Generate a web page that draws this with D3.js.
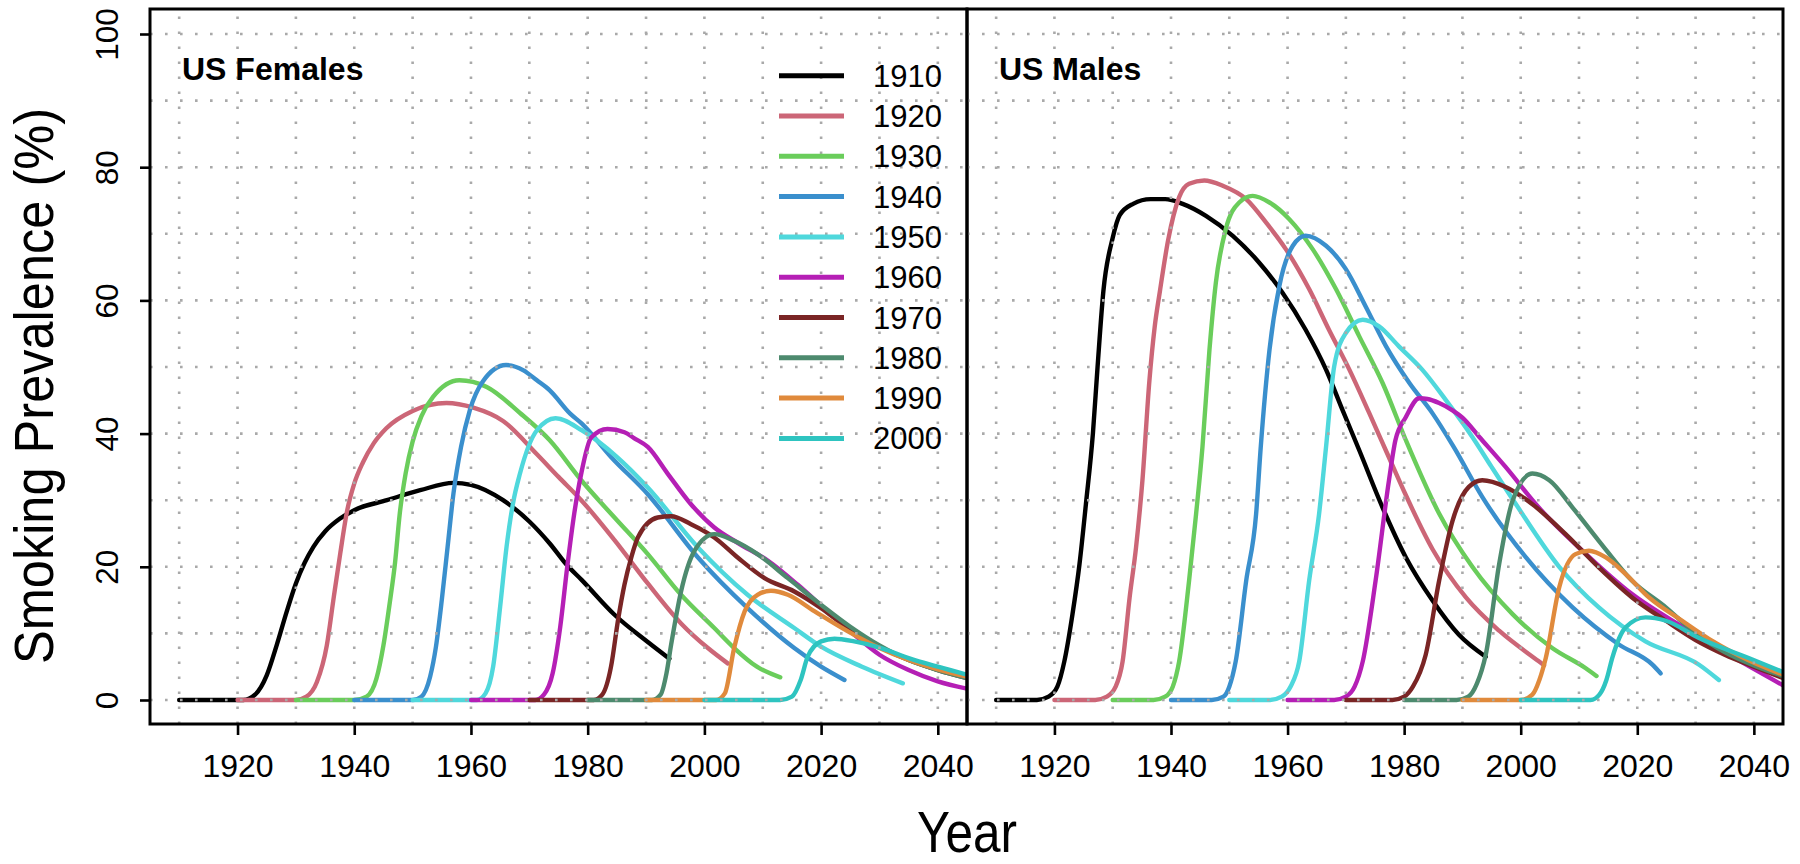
<!DOCTYPE html>
<html>
<head>
<meta charset="utf-8">
<script src="https://cdn.jsdelivr.net/npm/d3@7"></script>
<style>
  html, body { margin: 0; padding: 0; background: #ffffff; }
  svg { display: block; font-family: "Liberation Sans", Arial, Helvetica, sans-serif; }
</style>
</head>
<body>
<svg id="chart" width="1800" height="864"></svg>
<script>
// ---------------- DATA ----------------
const cohorts = ["1910", "1920", "1930", "1940", "1950", "1960", "1970", "1980", "1990", "2000"];
const cohortColors = ["#000000", "#cc6677", "#6acd5b", "#3a8fcd", "#4fd8dc", "#b51fb5", "#7a2525", "#4d8a6e", "#e08a3c", "#2ec4c0"];
const panelTitles = ["US Females", "US Males"];
const xTicks = [1920, 1940, 1960, 1980, 2000, 2020, 2040];
const yTicks = [0, 20, 40, 60, 80, 100];
const xGrid = [1910, 1920, 1930, 1940, 1950, 1960, 1970, 1980, 1990, 2000, 2010, 2020, 2030, 2040];
const yGrid = [0, 10, 20, 30, 40, 50, 60, 70, 80, 90, 100];

// US Females: [year, prevalence %]
const f1910 = [[1910,0],[1921,0],[1923,0.8],[1925,3.7],[1926.7,8.2],[1928.4,13.2],[1930,17.5],[1931.5,20.6],[1933,23],[1935,25.3],[1937.5,27.2],[1940,28.5],[1945.6,30],[1951.3,31.5],[1957,32.6],[1960,32.3],[1965.5,30],[1970,26.8],[1973.5,23.5],[1976.4,20.3],[1979,18],[1984.6,12.8],[1990.3,8.7],[1994,6.2]];
const f1920 = [[1920,0],[1930,0],[1931.8,0.5],[1933.6,2.7],[1935.3,8.2],[1936.5,15.5],[1937.6,22],[1938.8,28.5],[1940,32.5],[1941.5,35.7],[1943.3,38.5],[1945.5,40.8],[1950,43.4],[1955.8,44.6],[1960.4,43.9],[1965.5,41.9],[1971.3,36.9],[1975,33.5],[1978.9,30],[1984.6,24],[1990.3,17.5],[1996,11.5],[2000.6,7.8],[2004,5.5]];
const f1930 = [[1930,0],[1940,0],[1942.1,0.5],[1943.8,3.2],[1945,8.2],[1946.1,14.7],[1947,20.7],[1947.8,28],[1948.8,34],[1950,38.8],[1951.5,42.6],[1953.5,45.5],[1958,48],[1962.7,47],[1968.4,43.1],[1973.5,39],[1978.9,33],[1984.6,27.4],[1990.3,21.9],[1996,15.8],[2001.7,10.8],[2005.1,7.8],[2009,5],[2013,3.4]];
const f1940 = [[1940,0],[1950,0],[1951.5,0.5],[1953,3.5],[1954,8],[1955,15],[1956,23],[1957,31],[1958.3,38],[1959.8,43.5],[1962,47.8],[1966,50.3],[1969,49.5],[1971.3,48],[1973.5,46.5],[1977,43],[1979,41.5],[1984,36.5],[1990.3,30.9],[1998.9,21.4],[2007.4,13.8],[2015.4,7.8],[2020,5],[2024,3]];
const f1950 = [[1950,0],[1961,0],[1962.5,1],[1963.8,5],[1965,14],[1966.1,23],[1967.2,29.5],[1968.4,34],[1971.3,40.5],[1974.5,42.3],[1979,40.5],[1985,36.5],[1990.3,31.9],[1998.9,22.9],[2007.4,15.8],[2015.4,10.8],[2020,8],[2027,5],[2034,2.5]];
const f1960 = [[1960,0],[1971,0],[1972.5,0.8],[1974,4],[1975.3,11],[1976.5,20],[1977.7,28],[1978.9,34],[1980.6,39.4],[1983.4,40.7],[1986.3,40.2],[1988,39.3],[1990.3,38],[1993.7,34],[1997.7,29.4],[2001.7,25.9],[2005.7,23.6],[2010.9,20.9],[2016,17.3],[2021.1,13.3],[2025.7,9.8],[2030,6.8],[2035,4.5],[2040,2.8],[2045,1.7]];
const f1970 = [[1970,0],[1981,0],[1982.5,0.8],[1984,5],[1985.2,12],[1986.3,17.3],[1987.5,21.5],[1988.6,24.4],[1992,27.4],[1994.3,27.6],[1997.7,26.4],[2001.7,24.4],[2005.7,21.4],[2010.3,18.3],[2015.4,16.3],[2020,13.8],[2025,10.5],[2030,8],[2035,6],[2040,4.5],[2045,3.3]];
const f1980 = [[1980,0],[1991,0],[1992.5,0.8],[1993.5,4],[1994.3,8.3],[1996,16.3],[1998.3,22.4],[2001.7,24.9],[2005.1,23.9],[2009.1,21.9],[2014.3,18.3],[2020,14.3],[2025,11],[2030,8.2],[2035,6],[2040,4.5],[2045,3.3]];
const f1990 = [[1990,0],[2002,0],[2003.5,1],[2005.1,7.8],[2006.9,13.3],[2009.1,15.8],[2011.4,16.4],[2014.3,15.8],[2018.9,13.3],[2024.6,10.3],[2030,7.8],[2035,6],[2040,4.6],[2045,3.5]];
const f2000 = [[2000,0],[2013,0],[2015,0.5],[2016.5,3],[2017.7,6.5],[2020,8.8],[2022.3,9.2],[2025.7,8.8],[2030.3,7.8],[2035,6.3],[2040,5],[2045,3.8]];

// US Males: [year, prevalence %]
const m1910 = [[1910,0],[1917,0],[1919,0.5],[1920.5,2],[1921.7,5.8],[1923.1,12.9],[1924.3,20.4],[1925.4,29.4],[1926.6,40],[1927.4,50],[1928.4,61.4],[1930,69.4],[1931.2,72.8],[1933.5,74.5],[1936.5,75.2],[1939,75.2],[1942,74.5],[1946,72.7],[1950.6,69.7],[1955.1,65.7],[1959.1,61.2],[1963.1,55.6],[1966.6,49.6],[1969.4,43.6],[1972.3,37.5],[1976.3,28.9],[1980.3,21.4],[1984.9,14.9],[1989.4,9.8],[1994,6.5]];
const m1920 = [[1920,0],[1927,0],[1929,0.5],[1930.5,2],[1931.7,5.8],[1932.9,15.4],[1934,22.9],[1935.1,33],[1936.3,48],[1937.2,56],[1938.1,61.4],[1939.5,69],[1941.4,75.5],[1943.1,77.5],[1945.7,78],[1948.9,77.2],[1952.9,75.2],[1956.3,71.7],[1959.7,67.7],[1963.7,61.7],[1967.1,55.6],[1970.6,49.6],[1974,43.1],[1977,37.2],[1980,31.3],[1984.9,22.6],[1990.6,15.4],[1996.3,10.4],[2003.1,5.8],[2004,5.2]];
const m1930 = [[1930,0],[1937,0],[1939,0.5],[1940.3,2],[1941.4,5.8],[1943.1,17.9],[1944.3,27.9],[1945.4,38],[1946.6,52.6],[1947.7,62.7],[1949.4,70.7],[1951.7,74.7],[1954,75.7],[1956.9,74.7],[1960.3,72.2],[1964.3,67.7],[1968.3,61.7],[1972.3,54.6],[1976.3,47.6],[1980.3,39],[1986,28],[1991.7,20],[1998.6,12.9],[2005.4,7.8],[2011.1,4.8],[2013,3.6]];
const m1940 = [[1940,0],[1947,0],[1949,0.5],[1950,2],[1951.1,5.8],[1952.9,17.9],[1954.6,27.9],[1955.4,38],[1956.9,52.6],[1958.6,62.2],[1960.9,68.2],[1963.1,69.7],[1966.6,68.2],[1970,64.7],[1973.4,59.1],[1976.9,53.1],[1980.9,47.6],[1984.9,43],[1988.5,38],[1993.4,30.5],[2000.9,21.4],[2008.9,13.9],[2016.9,8.3],[2022.6,5.3],[2024,4]];
const m1950 = [[1950,0],[1957,0],[1959,0.5],[1960.5,2],[1962,5.8],[1963.7,17.9],[1965.4,27.9],[1966.6,38],[1968,50.1],[1970,55.1],[1972.9,57.1],[1975.7,56.1],[1979.1,53.1],[1983.1,49.6],[1987.1,45.1],[1991.7,39.5],[1995,35],[1999.1,29.5],[2006.6,20],[2013.4,13.9],[2021.4,8.8],[2030.6,5.3],[2034,3]];
const m1960 = [[1960,0],[1968,0],[1970,0.5],[1971.5,2],[1972.9,5.8],[1975.1,17.9],[1977.4,33],[1978.5,39],[1980.3,42.5],[1982.6,45.3],[1984,45.2],[1986,44.6],[1988.3,43.5],[1990,42.4],[1992.9,39.5],[1997.4,35],[2003.1,28.9],[2010.6,22.4],[2019.1,15.9],[2027.7,11],[2036.3,6.5],[2045,2.2]];
const m1970 = [[1970,0],[1978,0],[1980,0.5],[1981.5,2],[1983.7,6.8],[1986,17.9],[1988.3,26.9],[1991.1,32],[1993.4,33],[1997.4,32],[2002,29.4],[2007.7,24.9],[2013.4,19.9],[2019.1,15.4],[2024.9,11.9],[2030,9],[2035,6.8],[2040,5],[2045,3.3]];
const m1980 = [[1980,0],[1989,0],[1991,0.5],[1992.5,2.5],[1994,6.8],[1996.3,20.4],[1998.6,29.9],[2002,34],[2004.9,33],[2008.9,28.9],[2013.4,23.9],[2019.1,17.9],[2024.9,13.9],[2030,10],[2035,7.2],[2040,5.2],[2045,3.6]];
const m1990 = [[1990,0],[2000,0],[2002,0.8],[2003.2,3],[2004.3,6.3],[2006.6,16.9],[2009.4,21.9],[2011.7,22.4],[2014.6,21.4],[2018,18.9],[2022,15.4],[2027.7,11.9],[2033,8.8],[2039,6],[2045,3.8]];
const m2000 = [[2000,0],[2012,0],[2013.5,0.8],[2014.7,3],[2015.7,6.3],[2018,10.9],[2021.4,12.4],[2024.9,11.9],[2030.6,9.3],[2039.1,6.3],[2045,4.2]];

const femaleSeries = [f1910, f1920, f1930, f1940, f1950, f1960, f1970, f1980, f1990, f2000];
const maleSeries = [m1910, m1920, m1930, m1940, m1950, m1960, m1970, m1980, m1990, m2000];

// ---------------- LAYOUT ----------------
const svg = d3.select("#chart");
const plotTop = 9, plotBottom = 724;
const panels = [
  { x0: 150, x1: 967, series: femaleSeries, title: panelTitles[0] },
  { x0: 967, x1: 1783, series: maleSeries, title: panelTitles[1] }
];
const yScale = d3.scaleLinear().domain([0, 100]).range([700, 34]);
const font = '"Liberation Sans", Arial, Helvetica, sans-serif';
const defs = svg.append("defs");
const gridColor = "#a9a9a9";

panels.forEach((p, pi) => {
  const x = d3.scaleLinear().domain([1905, 2045]).range([p.x0, p.x1]);
  const g = svg.append("g");
  const clipId = "clip" + pi;
  defs.append("clipPath").attr("id", clipId)
    .append("rect").attr("x", p.x0).attr("y", plotTop).attr("width", p.x1 - p.x0).attr("height", plotBottom - plotTop);

  // data lines
  const line = d3.line().x(d => x(d[0])).y(d => yScale(d[1])).curve(d3.curveMonotoneX);
  const lg = g.append("g").attr("clip-path", `url(#${clipId})`);
  p.series.forEach((s, i) => {
    lg.append("path").attr("d", line(s)).attr("fill", "none")
      .attr("stroke", cohortColors[i]).attr("stroke-width", 4.4)
      .attr("stroke-linejoin", "round").attr("stroke-linecap", "round");
  });

  // dotted grid on top
  const gg = g.append("g").attr("clip-path", `url(#${clipId})`);
  xGrid.forEach(v => {
    gg.append("line").attr("x1", x(v)).attr("x2", x(v)).attr("y1", plotBottom).attr("y2", plotTop)
      .attr("stroke", gridColor).attr("stroke-width", 2.6).attr("stroke-dasharray", "2.6,12.4");
  });
  yGrid.forEach(v => {
    gg.append("line").attr("x1", p.x0).attr("x2", p.x1).attr("y1", yScale(v)).attr("y2", yScale(v))
      .attr("stroke", gridColor).attr("stroke-width", 2.6).attr("stroke-dasharray", "2.6,12.4");
  });

  // box
  g.append("rect").attr("x", p.x0).attr("y", plotTop).attr("width", p.x1 - p.x0).attr("height", plotBottom - plotTop)
    .attr("fill", "none").attr("stroke", "#000").attr("stroke-width", 3);

  // x axis
  const xa = d3.axisBottom(x).tickValues(xTicks).tickSize(11).tickFormat(d3.format("d"));
  const xg = g.append("g").attr("transform", `translate(0,${plotBottom})`).call(xa);
  xg.select(".domain").remove();
  xg.selectAll(".tick line").attr("stroke", "#000").attr("stroke-width", 2.6);
  xg.selectAll(".tick text").attr("font-family", font).attr("font-size", 32).attr("fill", "#000")
    .attr("y", 53).attr("dy", 0);

  // panel title
  g.append("text").attr("x", p.x0 + 32).attr("y", 80).text(p.title)
    .attr("font-family", font).attr("font-weight", "bold").attr("font-size", 32).attr("fill", "#000");
});

// y axis (left panel only)
const ya = d3.axisLeft(yScale).tickValues(yTicks).tickSize(10).tickFormat(d3.format("d"));
const yg = svg.append("g").attr("transform", "translate(150,0)").call(ya);
yg.select(".domain").remove();
yg.selectAll(".tick line").attr("stroke", "#000").attr("stroke-width", 2.6);
yg.selectAll(".tick text").attr("font-family", font).attr("font-size", 31.5).attr("fill", "#000")
  .attr("text-anchor", "middle").attr("x", 0).attr("dy", 0)
  .attr("transform", "translate(-32,0) rotate(-90)");

// axis titles
svg.append("text").text("Smoking Prevalence (%)")
  .attr("transform", "translate(53,386) rotate(-90)")
  .attr("text-anchor", "middle").attr("font-family", font).attr("font-size", 55)
  .attr("textLength", 556).attr("lengthAdjust", "spacingAndGlyphs").attr("fill", "#000");
svg.append("text").text("Year")
  .attr("x", 967).attr("y", 852).attr("text-anchor", "middle")
  .attr("font-family", font).attr("font-size", 58)
  .attr("textLength", 100).attr("lengthAdjust", "spacingAndGlyphs").attr("fill", "#000");

// legend
const legend = svg.append("g");
cohorts.forEach((c, i) => {
  const ly = 75.7 + i * 40.3;
  legend.append("line").attr("x1", 779).attr("x2", 844).attr("y1", ly).attr("y2", ly)
    .attr("stroke", cohortColors[i]).attr("stroke-width", 5);
  legend.append("text").attr("x", 873).attr("y", ly + 11).text(c)
    .attr("font-family", font).attr("font-size", 31).attr("fill", "#000");
});
</script>
</body>
</html>
